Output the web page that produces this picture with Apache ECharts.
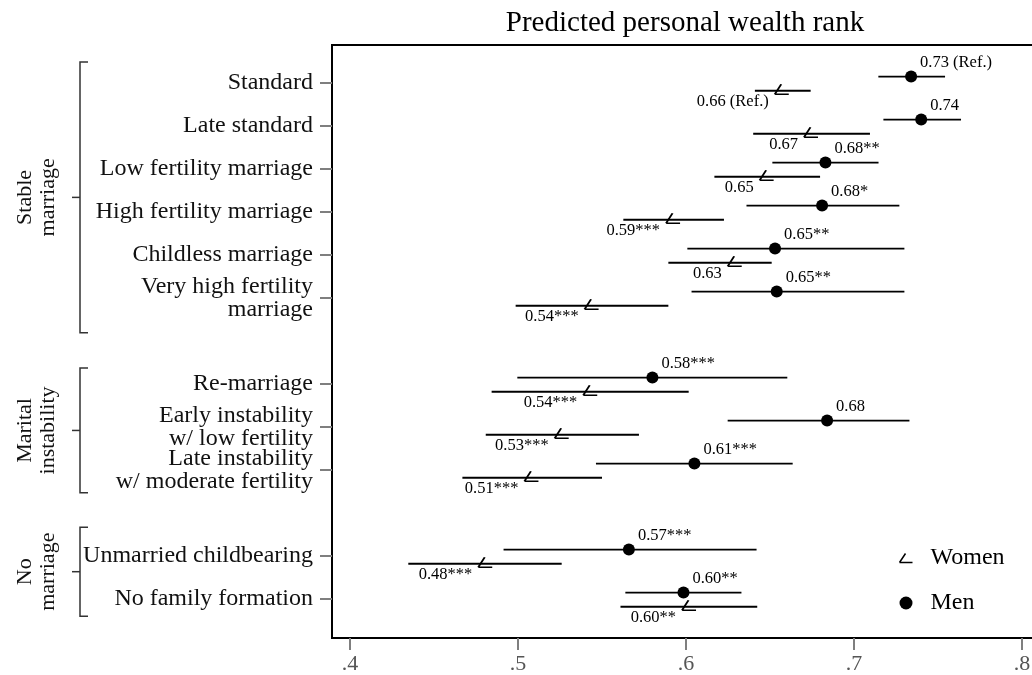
<!DOCTYPE html>
<html>
<head>
<meta charset="utf-8">
<script src="https://cdn.jsdelivr.net/npm/echarts@6/dist/echarts.min.js"></script>
<style>
  html, body { margin: 0; padding: 0; background: #fff; }
  #chart { width: 1032px; height: 675px; }
</style>
</head>
<body>
<div id="chart"></div>
<script>
// row labels and their position on the (inverted) y scale, gaps between groups
const rows = ['Standard', 'Late standard', 'Low fertility marriage', 'High fertility marriage',
  'Childless marriage', 'Very high fertility\nmarriage', 'Re-marriage',
  'Early instability\nw/ low fertility', 'Late instability\nw/ moderate fertility',
  'Unmarried childbearing', 'No family formation'];
const rowPos = [0, 1, 2, 3, 4, 5, 7, 8, 9, 11, 12];

// men: estimate, 95% CI, label
const menEst = [0.734, 0.740, 0.683, 0.681, 0.653, 0.654, 0.580, 0.684, 0.605, 0.566, 0.5985];
const menLo  = [0.7145, 0.7175, 0.6514, 0.636, 0.6008, 0.6033, 0.4996, 0.6248, 0.5464, 0.4914, 0.5639];
const menHi  = [0.7542, 0.7637, 0.7146, 0.727, 0.730, 0.730, 0.6603, 0.733, 0.6635, 0.642, 0.633];
const menLab = ['0.73 (Ref.)', '0.74', '0.68**', '0.68*', '0.65**', '0.65**', '0.58***', '0.68', '0.61***', '0.57***', '0.60**'];

// women
const womenEst = [0.657, 0.6744, 0.648, 0.5923, 0.629, 0.5438, 0.543, 0.526, 0.508, 0.4805, 0.6018];
const womenLo  = [0.641, 0.640, 0.6169, 0.5627, 0.5895, 0.4986, 0.4843, 0.4808, 0.4669, 0.4347, 0.561];
const womenHi  = [0.6742, 0.7095, 0.6798, 0.6226, 0.651, 0.5895, 0.6016, 0.572, 0.55, 0.526, 0.6424];
const womenLab = ['0.66 (Ref.)', '0.67', '0.65', '0.59***', '0.63', '0.54***', '0.54***', '0.53***', '0.51***', '0.48***', '0.60**'];

const xTicks = [0.4, 0.5, 0.6, 0.7, 0.8];

// group brackets on the left (in row units)
const groupNames = ['Stable\nmarriage', 'Marital\ninstability', 'No\nmarriage'];
const groupFrom = [-0.49, 6.63, 10.33];
const groupTo = [5.81, 9.53, 12.4];

const FONT = '"Liberation Serif", "DejaVu Serif", serif';
const INK = '#000';
const womenSymbol = 'path://M0,9 L6,0 M0,9 L13,9';
const MEN_DY = -0.15, WOMEN_DY = 0.18;

const chart = echarts.init(document.getElementById('chart'));

function ciItem(params, api) {
  const a = api.coord([api.value(0), api.value(2)]);
  const b = api.coord([api.value(1), api.value(2)]);
  return {
    type: 'line',
    shape: { x1: a[0], y1: a[1], x2: b[0], y2: b[1] },
    style: { stroke: '#000', lineWidth: 1.8 }
  };
}

chart.setOption({
  animation: false,
  title: {
    text: 'Predicted personal wealth rank',
    left: 685, top: 9, textAlign: 'center', padding: 0,
    textStyle: { fontFamily: FONT, fontSize: 29, fontWeight: 'normal', color: INK }
  },
  legend: {
    orient: 'vertical', left: 892, top: 541,
    itemWidth: 13, itemHeight: 13, itemGap: 21,
    textStyle: { fontFamily: FONT, fontSize: 24, color: INK, padding: [0, 0, 0, 13] },
    data: [
      { name: 'Women', icon: womenSymbol, itemStyle: { color: 'none', borderColor: '#000', borderWidth: 1.5, opacity: 1 } },
      { name: 'Men', icon: 'circle', itemStyle: { color: '#000', opacity: 1 } }
    ]
  },
  grid: {
    left: 332, top: 45, width: 702, height: 593,
    show: true, borderColor: '#000', borderWidth: 2,
    outerBoundsMode: 'none'
  },
  xAxis: {
    type: 'value',
    min: 0.4 - 18 / 1680, max: 0.4 + 684 / 1680,
    splitLine: { show: false },
    axisLine: { onZero: false, lineStyle: { color: '#000', width: 2 } },
    axisTick: { customValues: xTicks, length: 12, lineStyle: { color: '#7f7f7f', width: 2 } },
    axisLabel: {
      customValues: xTicks, margin: 15,
      fontFamily: FONT, fontSize: 22, color: '#555',
      formatter: v => v.toFixed(1).replace(/^0/, '')
    }
  },
  yAxis: {
    type: 'value', inverse: true,
    min: -0.884, max: 12.907,
    splitLine: { show: false },
    axisLine: { onZero: false, lineStyle: { color: '#000', width: 2 } },
    axisTick: { customValues: rowPos, length: 12, lineStyle: { color: '#7f7f7f', width: 2 } },
    axisLabel: {
      customValues: rowPos, margin: 19,
      fontFamily: FONT, fontSize: 24, lineHeight: 23, color: '#111',
      formatter: v => rows[rowPos.indexOf(Math.round(v))] || ''
    }
  },
  series: [
    {
      name: 'Men CI', type: 'custom', renderItem: ciItem,
      encode: { x: [0, 1], y: 2 },
      data: rows.map((r, i) => [menLo[i], menHi[i], rowPos[i] + MEN_DY])
    },
    {
      name: 'Women CI', type: 'custom', renderItem: ciItem,
      encode: { x: [0, 1], y: 2 },
      data: rows.map((r, i) => [womenLo[i], womenHi[i], rowPos[i] + WOMEN_DY])
    },
    {
      name: 'Women', type: 'scatter',
      symbol: womenSymbol, symbolSize: [14, 10], symbolOffset: [0, -1.5],
      itemStyle: { color: 'none', borderColor: '#000', borderWidth: 1.7, opacity: 1 },
      label: {
        show: true, position: 'left', distance: 3, offset: [0, 12],
        fontFamily: FONT, fontSize: 16.5, color: INK,
        formatter: p => womenLab[p.dataIndex]
      },
      data: rows.map((r, i) => [womenEst[i], rowPos[i] + WOMEN_DY])
    },
    {
      name: 'Men', type: 'scatter',
      symbol: 'circle', symbolSize: 12,
      itemStyle: { color: '#000', opacity: 1 },
      label: {
        show: true, position: 'right', distance: 3, offset: [0, -14],
        fontFamily: FONT, fontSize: 16.5, color: INK,
        formatter: p => menLab[p.dataIndex]
      },
      data: rows.map((r, i) => [menEst[i], rowPos[i] + MEN_DY])
    }
  ]
});

// brackets + rotated group names, placed through the y axis scale
const graphics = [];
groupNames.forEach((name, i) => {
  const y1 = chart.convertToPixel({ yAxisIndex: 0 }, groupFrom[i]);
  const y2 = chart.convertToPixel({ yAxisIndex: 0 }, groupTo[i]);
  const ym = (y1 + y2) / 2;
  graphics.push({
    type: 'polyline',
    shape: { points: [[88, y1], [80, y1], [80, y2], [88, y2]] },
    style: { stroke: '#333', lineWidth: 1.5, fill: null }
  });
  graphics.push({
    type: 'line',
    shape: { x1: 72, y1: ym, x2: 80, y2: ym },
    style: { stroke: '#333', lineWidth: 1.5 }
  });
  graphics.push({
    type: 'text', x: 37, y: ym, rotation: Math.PI / 2,
    style: {
      text: name, fontFamily: FONT, fontSize: 22, lineHeight: 23,
      fill: '#111', align: 'center', verticalAlign: 'middle'
    }
  });
});
chart.setOption({ graphic: graphics });
</script>
</body>
</html>
